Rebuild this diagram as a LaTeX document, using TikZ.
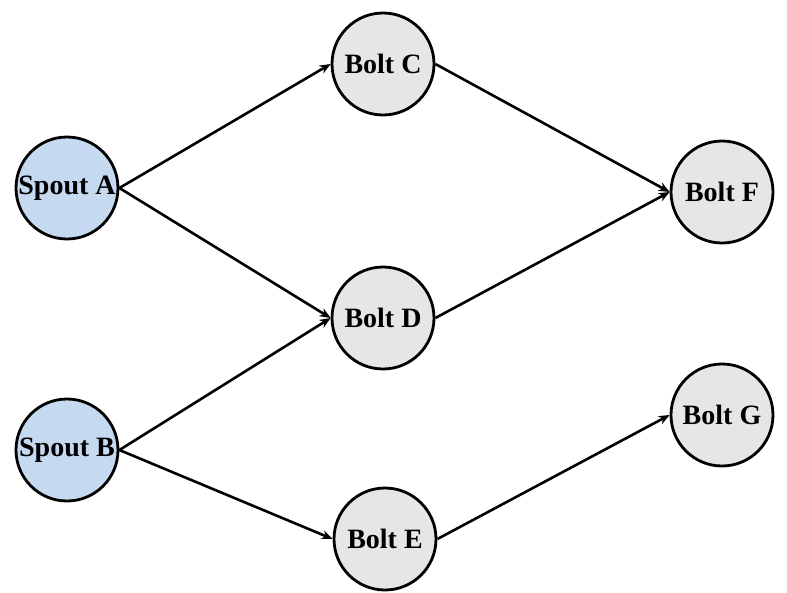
\documentclass[tikz,border=0pt]{standalone}
\usepackage{fontspec}
\setmainfont{Liberation Serif}
\usetikzlibrary{arrows.meta}
\definecolor{spoutblue}{RGB}{197,218,240}
\definecolor{boltgray}{RGB}{230,230,230}
\tikzset{
  task/.style = {circle, draw = black, line width = 2.8pt, minimum size = 102pt, inner sep = 0pt,
    font = \fontsize{28}{30}\selectfont\bfseries},
  spout/.style = {task, fill = spoutblue},
  bolt/.style = {task, fill = boltgray},
  flow/.style = {-{Stealth[length = 11pt, width = 9pt]}, line width = 2.6pt}
}

\begin{document}
\begin{tikzpicture}[x = 1pt, y = -1pt]
\useasboundingbox (0,0) rectangle (787,592);
\node [spout] (spoutA) at (67,188) {Spout A};
\node [spout] (spoutB) at (67,450) {Spout B};
\node [bolt] (boltC) at (383,64) {Bolt C};
\node [bolt] (boltD) at (383,318) {Bolt D};
\node [bolt] (boltE) at (385,539) {Bolt E};
\node [bolt] (boltF) at (722,192) {Bolt F};
\node [bolt] (boltG) at (722,415) {Bolt G};
\draw [flow] (spoutA.east) -- (boltC.west);
\draw [flow] (spoutA.east) -- (boltD.west);
\draw [flow] (spoutB.east) -- (boltD.west);
\draw [flow] (spoutB.east) -- (boltE.west);
\draw [flow] (boltC.east) -- (boltF.west);
\draw [flow] (boltD.east) -- (boltF.west);
\draw [flow] (boltE.east) -- (boltG.west);
\end{tikzpicture}
\end{document}
